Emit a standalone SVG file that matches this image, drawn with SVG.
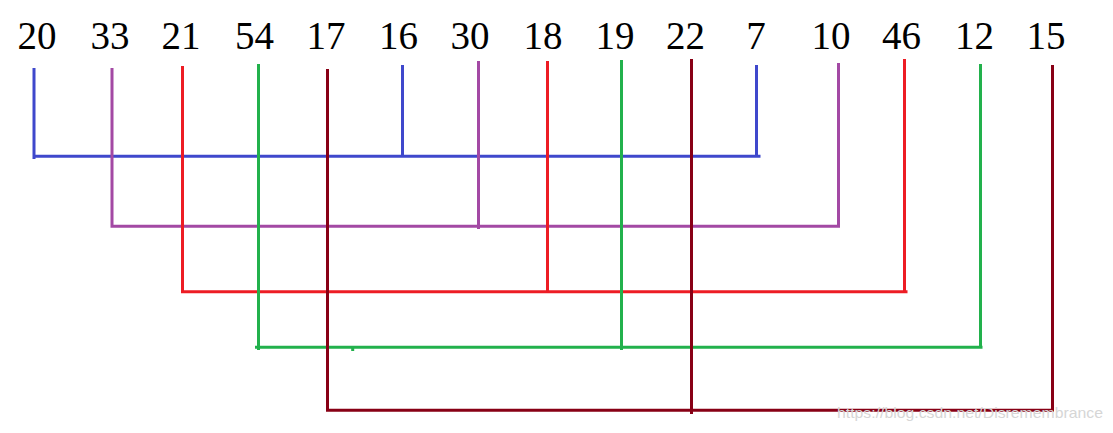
<svg xmlns="http://www.w3.org/2000/svg" width="1113" height="433" viewBox="0 0 1113 433">
<style>
.n{font-family:"Liberation Serif","Times New Roman",serif;font-size:39px;fill:#000;text-anchor:middle}
.c{fill:none;stroke-width:3;stroke-linecap:butt}
.b{stroke:#3F48CC}.p{stroke:#A349A4}.r{stroke:#ED1C24}.g{stroke:#22B14C}.d{stroke:#880015}
.w{font-family:"Liberation Sans",Arial,sans-serif;font-size:15px;fill:#d6d6d6}
</style>
<rect width="1113" height="433" fill="#fff"/>
<g id="connectors">
<path class="c b" d="M34 68V159M402.5 65V157M756.5 65V156.3M32.5 156.3H760.5"/>
<path class="c p" d="M112 68V227.8M478.5 61V229M838.5 63V226.3M110.5 226.3H840"/>
<path class="c r" d="M182.5 66V293.2M547.5 61V292M904.5 59V293M181 291.7H907.5"/>
<path class="c g" d="M258.5 64V350M621.5 60V350M980.5 64V347.3M255 347.3H982.5M352.7 348V351"/>
<path class="c d" d="M327.5 69V411.8M691.5 59V414M1052.5 65V411.8M326 410.3H1054"/>
</g>
<g id="n20"><text class="n" x="37" y="49">20</text></g>
<g id="n33"><text class="n" x="110" y="49">33</text></g>
<g id="n21"><text class="n" x="181" y="49">21</text></g>
<g id="n54"><text class="n" x="254.5" y="49">54</text></g>
<g id="n17"><text class="n" x="326" y="49">17</text></g>
<g id="n16"><text class="n" x="398.5" y="49">16</text></g>
<g id="n30"><text class="n" x="470" y="49">30</text></g>
<g id="n18"><text class="n" x="543" y="49">18</text></g>
<g id="n19"><text class="n" x="615" y="49">19</text></g>
<g id="n22"><text class="n" x="685.5" y="49">22</text></g>
<g id="n7"><text class="n" x="756" y="49">7</text></g>
<g id="n10"><text class="n" x="831" y="49">10</text></g>
<g id="n46"><text class="n" x="901.5" y="49">46</text></g>
<g id="n12"><text class="n" x="974.5" y="49">12</text></g>
<g id="n15"><text class="n" x="1046" y="49">15</text></g>
<text class="w" x="837" y="418" textLength="266" lengthAdjust="spacingAndGlyphs">https://blog.csdn.net/Disremembrance</text>
</svg>
